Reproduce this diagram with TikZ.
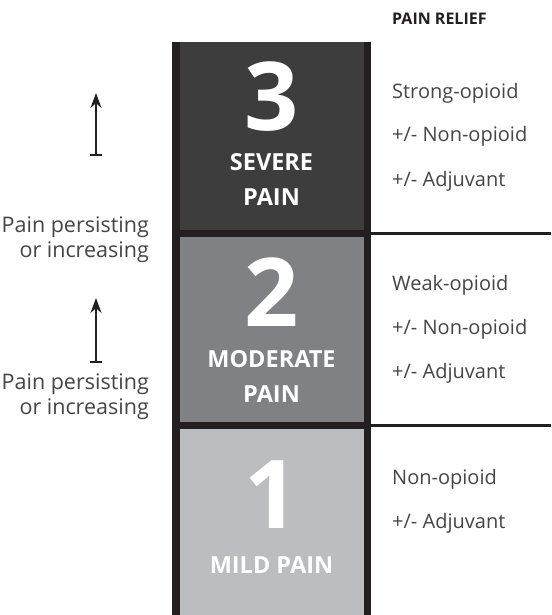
\documentclass[tikz,border=0pt]{standalone}
\usepackage{fontspec}
\setmainfont{Open Sans}
\usetikzlibrary{arrows.meta}
\definecolor{cthree}{HTML}{3D3D3E}
\definecolor{ctwo}{HTML}{808184}
\definecolor{cone}{HTML}{BCBDC0}
\definecolor{edgec}{HTML}{231F20}
\definecolor{txtc}{HTML}{454545}
\begin{document}
\begin{tikzpicture}[x=1pt,y=-1pt,
  band/.style={rectangle, draw=none, minimum width=199pt, inner sep=0pt, outer sep=0pt, anchor=north west},
  digit/.style={text=white, font=\bfseries\fontsize{95}{95}\selectfont, inner sep=0pt},
  lvl/.style={text=white, font=\bfseries\fontsize{23.5}{35}\selectfont, inner sep=0pt, align=center, anchor=north},
  relief/.style={text=txtc, font=\fontsize{20}{20}\selectfont, anchor=base west, inner sep=0pt},
  head/.style={text=edgec, font=\bfseries\fontsize{16}{16}\selectfont, anchor=base west, inner sep=0pt},
  note/.style={text=txtc, font=\fontsize{21.5}{25}\selectfont, align=right, anchor=base east, inner sep=0pt},
  border/.style={edgec, line width=7.5pt},
  rulel/.style={edgec, line width=2.5pt},
  up/.style={edgec, line width=1.6pt, {Bar[width=12pt,line width=1.6pt]}-{Stealth[length=15pt,width=11pt]}}
]
\useasboundingbox (0,0) rectangle (551,615);

% bands
\node[band, fill=cthree, minimum height=191.5pt] (b3) at (172,42) {};
\node[band, fill=ctwo,   minimum height=192pt]   (b2) at (172,233.5) {};
\node[band, fill=cone,   minimum height=189.5pt] (b1) at (172,425.5) {};

% borders
\draw[border] ([xshift=3.75pt]b3.north west) -- ([xshift=3.75pt]b1.south west);
\draw[border] ([xshift=-3.75pt]b3.north east) -- ([xshift=-3.75pt]b1.south east);
\draw[border] (b3.south west) -- (b3.south east);
\draw[border] (b2.south west) -- (b2.south east);

% rules to the right
\coordinate (r3) at (551,233.5);
\coordinate (r2) at (551,425.5);
\draw[rulel] (b3.south east) -- (r3);
\draw[rulel] (b2.south east) -- (r2);

% level labels
\node[digit] (d3) at (271.5,97) {3};
\node[lvl] (l3) at (271.5,153) {SEVERE\\PAIN};
\node[digit] (d2) at (271.5,292) {2};
\node[lvl] (l2) at (271.5,350) {MODERATE\\PAIN};
\node[digit] (d1) at (271.5,495) {1};
\node[lvl] (l1) at (271.5,556) {MILD PAIN};

% pain relief column
\node[head] (ph) at (392,25) {PAIN RELIEF};
\node[relief] (s1) at (392,99) {Strong-opioid};
\node[relief] (s2) at (392,141) {+/- Non-opioid};
\node[relief] (s3) at (392,186) {+/- Adjuvant};
\node[relief] (w1) at (392,290) {Weak-opioid};
\node[relief] (w2) at (392,334) {+/- Non-opioid};
\node[relief] (w3) at (392,378) {+/- Adjuvant};
\node[relief] (n1) at (392,484) {Non-opioid};
\node[relief] (n2) at (392,528) {+/- Adjuvant};

% arrows and notes
\coordinate (a1s) at (96,156);
\coordinate (a1e) at (96,93);
\coordinate (a2s) at (96,363);
\coordinate (a2e) at (96,298);
\draw[up] (a1s) -- (a1e);
\draw[up] (a2s) -- (a2e);
\node[note] (t1) at (149,257) {Pain persisting\\or increasing};
\node[note] (t2) at (149,414) {Pain persisting\\or increasing};
\end{tikzpicture}
\end{document}
